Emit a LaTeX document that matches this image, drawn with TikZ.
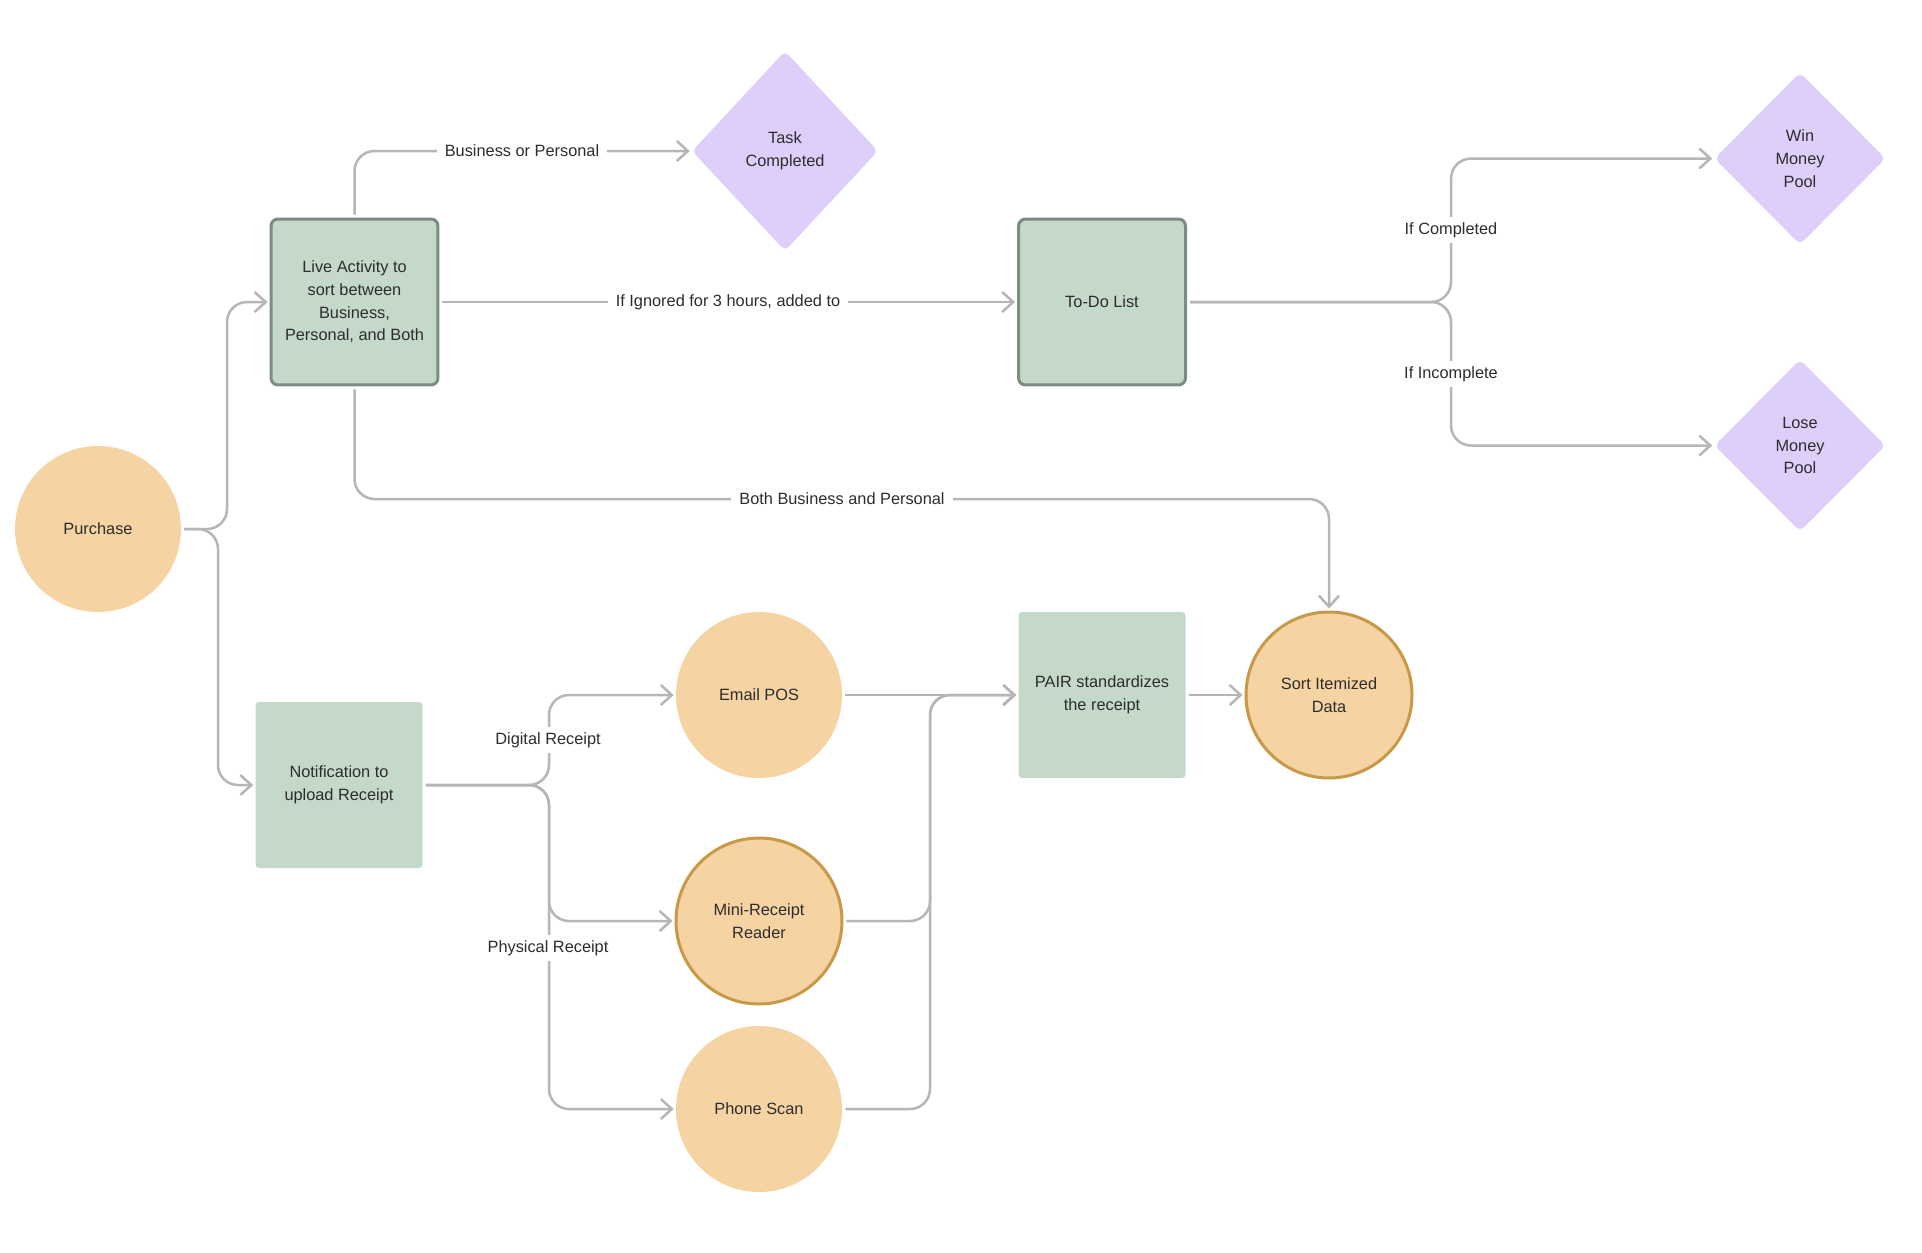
\documentclass[tikz,border=0pt]{standalone}
\usepackage{fontspec}
\setmainfont{Liberation Sans}
\usetikzlibrary{shapes.geometric,arrows.meta}
\definecolor{peach}{RGB}{245,211,162}
\definecolor{sage}{RGB}{196,217,202}
\definecolor{lilac}{RGB}{222,207,250}
\definecolor{sageborder}{RGB}{125,140,130}
\definecolor{gold}{RGB}{200,153,70}
\definecolor{linegray}{RGB}{182,182,182}
\definecolor{txt}{RGB}{45,45,45}
\tikzset{
  circ/.style={circle, fill=peach, minimum size=3.32cm, inner sep=0pt, align=center},
  circb/.style={circ, draw=gold, line width=0.06cm},
  box/.style={rectangle, fill=sage, minimum width=3.34cm, minimum height=3.32cm, inner sep=0pt, align=center, rounded corners=2pt},
  boxb/.style={box, draw=sageborder, line width=0.06cm, rounded corners=4pt},
  dia/.style={diamond, fill=lilac, inner sep=0pt, align=center, rounded corners=3pt},
  link/.style={draw=linegray, line width=0.05cm, rounded corners=0.4cm,
    -{Straight Barb[length=0.22cm,width=0.4cm,line width=0.05cm]},
    shorten >=0.04cm, shorten <=0.06cm},
  lbl/.style={fill=white, inner xsep=0.16cm, inner ysep=0.1cm}
}
\begin{document}
\begin{tikzpicture}[x=0.02cm, y=-0.02cm, font=\fontsize{9.3}{12.9}\selectfont, text=txt]
\fill[white] (0,0) rectangle (1922,1252);
\useasboundingbox (0,0) rectangle (1922,1252);

% nodes
\node[circ] (purchase) at (98,529) {Purchase};
\node[boxb] (live) at (354.5,302) {Live Activity to\\sort between\\Business,\\Personal, and Both};
\node[dia, minimum width=3.72cm, minimum height=4.0cm] (task) at (785,151) {Task\\Completed};
\node[boxb] (todo) at (1102,302) {To-Do List};
\node[dia, minimum width=3.42cm, minimum height=3.44cm] (win) at (1800,158.5) {Win\\Money\\Pool};
\node[dia, minimum width=3.42cm, minimum height=3.44cm] (lose) at (1800,445.5) {Lose\\Money\\Pool};
\node[box] (notif) at (339,785) {Notification to\\upload Receipt};
\node[circ] (email) at (759,695) {Email POS};
\node[circb] (mini) at (759,921) {Mini-Receipt\\Reader};
\node[circ] (phone) at (759,1109) {Phone Scan};
\node[box] (pair) at (1102,695) {PAIR standardizes\\the receipt};
\node[circb] (sort) at (1329,695) {Sort Itemized\\Data};

% connectors
\draw[link] (purchase.east) -- (227,529) |- (live.west);
\draw[link] (purchase.east) -- (218,529) |- (notif.west);
\draw[link] (live.north) |- (task.west);
\draw[link] (live.east) -- (todo.west);
\coordinate (bp) at (842,499);
\draw[link] (live.south) |- (bp) -| (sort.north);
\draw[link] (todo.east) -- (1451,302) |- (win.west);
\draw[link] (todo.east) -- (1451,302) |- (lose.west);
\draw[link] (notif.east) -- (549,785) |- (email.west);
\draw[link] (notif.east) -- (549,785) |- (mini.west);
\draw[link] (notif.east) -- (549,785) |- (phone.west);
\draw[link] (email.east) -- (pair.west);
\draw[link] (mini.east) -- (930,921) |- (pair.west);
\draw[link] (phone.east) -- (930,1109) |- (pair.west);
\draw[link] (pair.east) -- (sort.west);

% labels
\node[lbl] (l1) at (522,151) {Business or Personal};
\node[lbl] (l2) at (728,302) {If Ignored for 3 hours, added to};
\node[lbl] (l3) at (842,499) {Both Business and Personal};
\node[lbl] (l4) at (1451,230) {If Completed};
\node[lbl] (l5) at (1451,374) {If Incomplete};
\node[lbl] (l6) at (548,740) {Digital Receipt};
\node[lbl] (l7) at (548,948) {Physical Receipt};
\end{tikzpicture}
\end{document}
